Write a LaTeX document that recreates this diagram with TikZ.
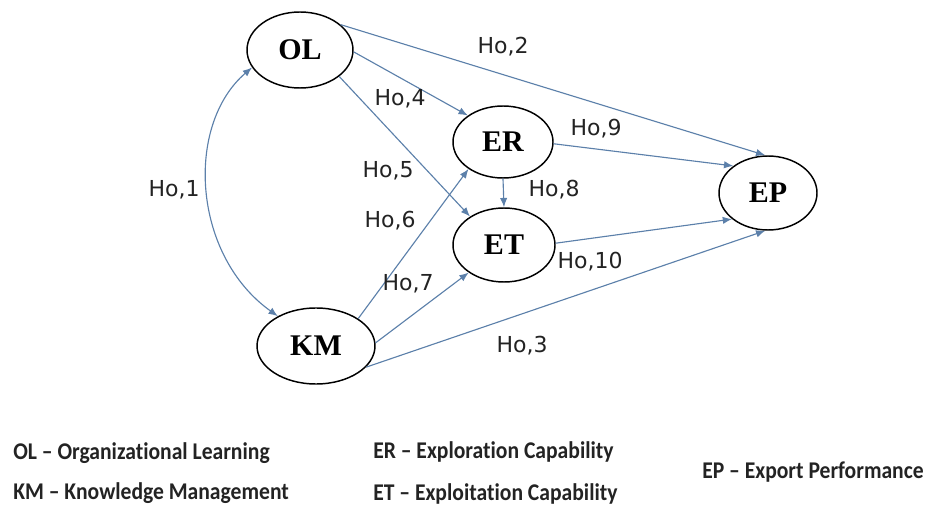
\documentclass[tikz,border=0pt]{standalone}
\usepackage{fontspec}
\usepackage{graphicx}
\usetikzlibrary{arrows.meta,shapes.geometric}
\newfontfamily\constructfont{Liberation Serif}
\newfontfamily\hypfont{DejaVu Sans}
\newfontfamily\legendfont{Carlito}[Ligatures={NoCommon}]
\definecolor{pathblue}{RGB}{92,128,170}
\definecolor{hyptext}{RGB}{35,35,35}
\tikzset{
  construct/.style={draw=black,line width=1.1pt,ellipse,fill=white,inner sep=0pt,
    font=\constructfont\bfseries\fontsize{22.5}{26}\selectfont},
  hyp/.style={font=\hypfont\fontsize{16.5}{20}\selectfont,inner sep=0pt,text=hyptext},
  path/.style={draw=pathblue,line width=0.85pt,-{Latex[length=7pt,width=5.5pt]}},
  legend/.style={font=\legendfont\bfseries\fontsize{18}{22}\selectfont,inner sep=0pt,anchor=west,text=hyptext}
}
\begin{document}
\begin{tikzpicture}[x=0.75pt,y=-0.75pt]
\useasboundingbox (0,0) rectangle (926,506);

% constructs
\node[construct,minimum width=79.5pt,minimum height=57pt] (OL) at (300,50) {OL};
\node[construct,minimum width=75pt,minimum height=54pt] (ER) at (503,142) {ER};
\node[construct,minimum width=76.5pt,minimum height=55.5pt] (ET) at (504,245) {ET};
\node[construct,minimum width=88.5pt,minimum height=57pt] (KM) at (316,346) {KM};
\node[construct,minimum width=73.5pt,minimum height=55.5pt] (EP) at (768,193) {EP};

% hypothesised paths
\draw[path,{Latex[length=7pt,width=5.5pt]}-{Latex[length=7pt,width=5.5pt]}]
  (OL.200) .. controls (185,125) and (192,255) .. (KM.142);
\draw[path] (OL.32) -- (EP.94);
\draw[path] (OL.358) -- (ER.143);
\draw[path] (OL.326) -- (ET.140);
\draw[path] (KM.33) -- (ER.218);
\draw[path] (KM.3) -- (ET.218);
\draw[path] (KM.337) -- (EP.266);
\draw[path] (ER.south) -- (ET.north);
\draw[path] (ER.358) -- (EP.142);
\draw[path] (ET.2) -- (EP.216);

% hypothesis labels
\node[hyp] (h1) at (174,190) {Ho,1};
\node[hyp] (h2) at (503,47) {Ho,2};
\node[hyp] (h3) at (522,346) {Ho,3};
\node[hyp] (h4) at (400,99) {Ho,4};
\node[hyp] (h5) at (388,171) {Ho,5};
\node[hyp] (h6) at (390,221) {Ho,6};
\node[hyp] (h7) at (408,284) {Ho,7};
\node[hyp] (h8) at (554,190) {Ho,8};
\node[hyp] (h9) at (596,129) {Ho,9};
\node[hyp] (h10) at (590,262) {Ho,10};

% legend
\node[legend] (lOL) at (13,453) {\scalebox{0.9}[1]{OL – Organizational Learning}};
\node[legend] (lKM) at (13,493) {\scalebox{0.9}[1]{KM – Knowledge Management}};
\node[legend] (lER) at (373,452) {\scalebox{0.9}[1]{ER – Exploration Capability}};
\node[legend] (lET) at (373,494) {\scalebox{0.9}[1]{ET – Exploitation Capability}};
\node[legend] (lEP) at (702,472) {\scalebox{0.9}[1]{EP – Export Performance}};
\end{tikzpicture}
\end{document}
